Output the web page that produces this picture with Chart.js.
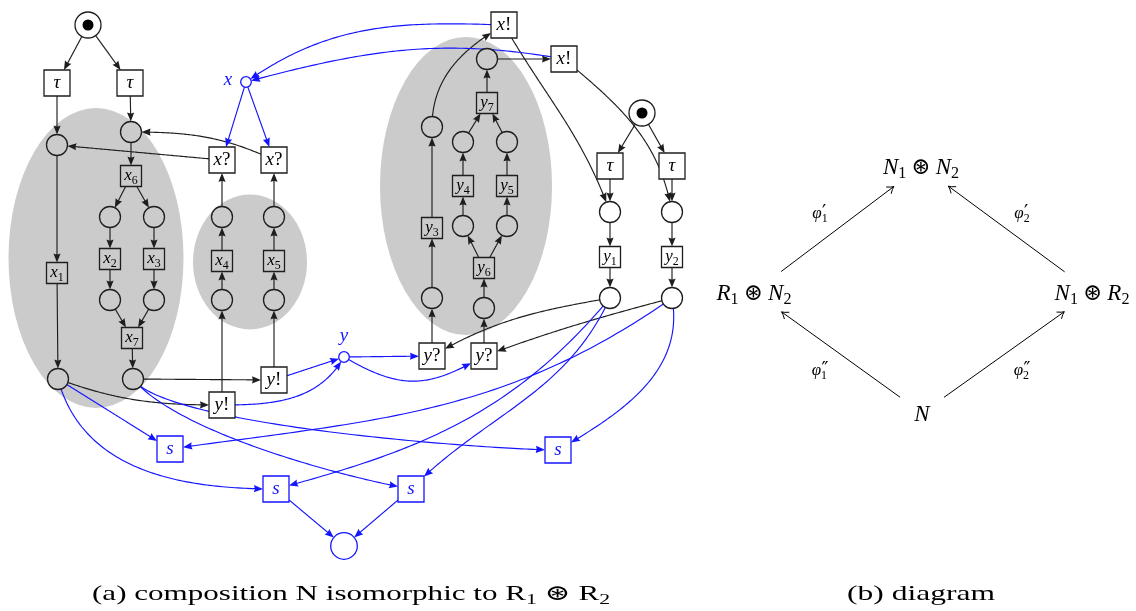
<!DOCTYPE html>
<html>
<head>
<meta charset="utf-8">
<script src="https://cdn.jsdelivr.net/npm/chart.js@4.4.1/dist/chart.umd.min.js"></script>
<style>
html, body { margin: 0; padding: 0; background: #fff; }
#wrap { width: 1136px; height: 611px; position: relative; }
</style>
</head>
<body>
<div id="wrap"><canvas id="net"></canvas></div>
<script>
// 座標單位 = 參考圖的像素 (x 0..1136, y 0..611 向下)

// 位置 (places)
const placeIds = ['i1','p1','p2','p3','p4','p5','p6','p7','p8','p9','p10','p11','p12',
                  'i2','q1','q2','q3','q4','q5','q6','q7','q8','q9','q10','q11','q12',
                  'px','py','pf'];
const placeX = [88, 57, 131, 110, 154, 110, 154, 58, 133, 222, 274, 222, 274,
                642, 487, 432, 463, 507, 463, 507, 432, 484, 610, 672, 610, 672,
                246, 344, 344];
const placeY = [25, 145, 132, 217, 217, 300, 300, 379, 379, 217, 217, 300, 300,
                113, 59, 127, 142, 142, 226, 226, 298, 308, 212, 212, 298, 298,
                82, 357, 546];
const placeKind = ['init','std','std','std','std','std','std','std','std','std','std','std','std',
                   'init','std','std','std','std','std','std','std','std','std','std','std','std',
                   'port','port','final'];

// 變遷 (transitions)
const transIds = ['t1','t2','x6','x2','x3','x1','x7','x4','x5','xq1','xq2','ye1','ye2','xe1','xe2',
                  'y7','y4','y5','y3','y6','t3','t4','y1','y2','yq1','yq2','s1','s2','s3','s4'];
const transLabels = ['τ','τ','x_6','x_2','x_3','x_1','x_7','x_4','x_5','x?','x?','y!','y!','x!','x!',
                     'y_7','y_4','y_5','y_3','y_6','τ','τ','y_1','y_2','y?','y?','s','s','s','s'];
const transX = [57, 130, 131, 110, 154, 57, 132, 222, 274, 222, 274, 222, 274, 504, 564,
                487, 463, 507, 432, 484, 610, 672, 610, 672, 432, 484, 170, 276, 411, 558];
const transY = [83, 83, 176, 259, 259, 273, 338, 261, 261, 160, 160, 405, 380, 25, 59,
                103, 186, 186, 228, 268, 166, 166, 257, 257, 356, 356, 449, 489, 489, 450];
const transKind = ['big','big','small','small','small','small','small','small','small','big','big','big','big','big','big',
                   'small','small','small','small','small','big','big','small','small','big','big','sync','sync','sync','sync'];

// 弧 [from, to, out角, in角, looseness]
const blackArcs = [
    ['i1','t1'], ['i1','t2'], ['t1','p1'], ['t2','p2'], ['p2','x6'], ['x6','p3'], ['x6','p4'],
    ['p3','x2'], ['p4','x3'], ['x2','p5'], ['x3','p6'], ['p5','x7'], ['p6','x7'], ['x7','p8'],
    ['p1','x1'], ['x1','p7'], ['p8','ye2'], ['p7','ye1', -20, 180],
    ['ye1','p11'], ['p11','x4'], ['x4','p9'], ['p9','xq1'],
    ['ye2','p12'], ['p12','x5'], ['x5','p10'], ['p10','xq2'],
    ['xq1','p1'], ['xq2','p2', 155, 0],
    ['yq1','q7'], ['q7','y3'], ['y3','q2'], ['q2','xe1', 90, -150],
    ['yq2','q8'], ['q8','y6'], ['y6','q5'], ['y6','q6'], ['q5','y4'], ['q6','y5'],
    ['y4','q3'], ['y5','q4'], ['q3','y7'], ['q4','y7'], ['y7','q1'], ['q1','xe2'],
    ['xe1','q9', -60, 110], ['xe2','q10', -40, 100],
    ['i2','t3'], ['i2','t4'], ['t3','q9'], ['t4','q10'], ['q9','y1'], ['q10','y2'],
    ['y1','q11'], ['y2','q12'],
    ['q11','yq1', 190, 30], ['q12','yq2', 195, 20]
];
const blueArcs = [
    ['xe1','px', 178, 35], ['xe2','px', 170, 15], ['px','xq1'], ['px','xq2'],
    ['ye2','py'], ['ye1','py', 0, -120], ['py','yq1'], ['py','yq2', -30, -150, 1.2],
    ['p7','s1'], ['p7','s2', -75, 180], ['p8','s4', -55, 180, 0.35], ['p8','s3', -50, 170, 0.6],
    ['q11','s2', -130, 15], ['q11','s3', -115, 45], ['q12','s1', -145, 8], ['q12','s4', -80, 30],
    ['s2','pf'], ['s3','pf']
];

// 灰色區域 (components)
const regionX = [96, 250, 466];
const regionY = [258, 262, 186];
const regionRX = [87.5, 57, 86];
const regionRY = [150, 67.5, 149];

// 介面標籤
const portLabels = ['x', 'y'];
const portLabelX = [228, 344];
const portLabelY = [81, 337];

// (b) 圖
const diagLabels = ['N_1 ⊛ N_2', 'R_1 ⊛ N_2', 'N_1 ⊛ R_2', 'N'];
const diagX = [921, 754, 1092, 922];
const diagY = [166, 292, 292, 413];
const diagGap = [34, 34, 34, 27];
const diagArrows = [[1, 0], [2, 0], [3, 1], [3, 2]];
const phiLabels = ["φ'_1", "φ'_2", "φ''_1", "φ''_2"];
const phiX = [820, 1022, 820, 1022];
const phiY = [215, 215, 372, 372];

// 說明文字
const captions = ['(a) composition N isomorphic to R_1 ⊛ R_2', '(b) diagram'];
const captionX = [351, 921];
const captionY = [593, 593];
const captionW = [518, 148];

// 樣式
const INK = '#1e1e1e';
const BLUE = '#1414ff';
const GRAY = '#cbcbcb';
const FAM = '"Liberation Serif", "DejaVu Serif", "DejaVu Sans", serif';
const placeR = { init: 13, std: 10.5, port: 5.3, final: 13.3 };
const transSide = { big: 26, small: 21, sync: 26 };

function inRegion(x, y) {
    for (let i = 0; i < regionX.length; i++) {
        const dx = (x - regionX[i]) / regionRX[i];
        const dy = (y - regionY[i]) / regionRY[i];
        if (dx * dx + dy * dy < 1) return true;
    }
    return false;
}

// 節點表
const nodes = {};
placeIds.forEach((id, i) => {
    nodes[id] = { x: placeX[i], y: placeY[i], shape: 'c', r: placeR[placeKind[i]] };
});
transIds.forEach((id, i) => {
    nodes[id] = { x: transX[i], y: transY[i], shape: 'r', r: transSide[transKind[i]] / 2 };
});

// 數學文字
function drawMath(ctx, str, cx, cy, size, color, opts = {}) {
    const parts = [];
    for (let i = 0; i < str.length; i++) {
        const c = str[i];
        if (c === '_') { parts.push({ t: str[++i], k: 'sub' }); continue; }
        if (c === "'") {
            let t = '\u2032';
            if (str[i + 1] === "'") { t = '\u2033'; i++; }
            parts.push({ t: t, k: 'sup' });
            continue;
        }
        if (c === ' ') { parts.push({ t: ' ', k: 'sp' }); continue; }
        const letter = /[A-Za-z\u03b1-\u03c9]/.test(c);
        parts.push({ t: c, k: (letter && !opts.upright) ? 'it' : 'rm' });
    }
    const fontOf = k => {
        if (k === 'it') return `italic ${size}px ${FAM}`;
        if (k === 'sub') return `${(size * 0.7).toFixed(1)}px ${FAM}`;
        if (k === 'sup') return `${(size * 1.1).toFixed(1)}px "DejaVu Sans", ${FAM}`;
        return `${size}px ${FAM}`;
    };
    let x = 0;
    let scriptStart = null;
    const placed = [];
    parts.forEach(p => {
        if (p.k === 'sp') { x += size * (opts.space || 0.25); scriptStart = null; return; }
        ctx.font = fontOf(p.k);
        const w = ctx.measureText(p.t).width;
        let px = x, dy = 0;
        if (p.k === 'sup') {
            px = x + size * 0.02;
            scriptStart = x; dy = -size * 0.05; x = px + w;
        } else if (p.k === 'sub') {
            if (scriptStart !== null) px = scriptStart;
            dy = size * 0.2; x = Math.max(x, px + w); scriptStart = null;
        } else {
            scriptStart = null; x += w;
        }
        placed.push({ t: p.t, k: p.k, x: px, dy: dy });
    });
    const sx = opts.width ? opts.width / x : 1;
    ctx.save();
    ctx.translate(cx - x * sx / 2, cy + size * (opts.base != null ? opts.base : 0.3));
    ctx.scale(sx, 1);
    ctx.fillStyle = color;
    ctx.textBaseline = 'alphabetic';
    ctx.textAlign = 'left';
    placed.forEach(p => {
        ctx.font = fontOf(p.k);
        ctx.fillText(p.t, p.x, p.dy);
    });
    ctx.restore();
}

// 弧線 (TikZ 式 out/in 貝茲曲線)
function drawArc(ctx, chart, arc, color) {
    const sx = chart.scales.x, sy = chart.scales.y;
    const a = nodes[arc[0]], b = nodes[arc[1]];
    const A = { x: sx.getPixelForValue(a.x), y: sy.getPixelForValue(a.y) };
    const B = { x: sx.getPixelForValue(b.x), y: sy.getPixelForValue(b.y) };
    const d = Math.hypot(B.x - A.x, B.y - A.y);
    let C1, C2;
    if (arc[2] == null) {
        C1 = { x: A.x + (B.x - A.x) / 3, y: A.y + (B.y - A.y) / 3 };
        C2 = { x: A.x + 2 * (B.x - A.x) / 3, y: A.y + 2 * (B.y - A.y) / 3 };
    } else {
        const L = 0.3915 * d * (arc[4] || 1);
        const o = arc[2] * Math.PI / 180, n = arc[3] * Math.PI / 180;
        C1 = { x: A.x + L * Math.cos(o), y: A.y - L * Math.sin(o) };
        C2 = { x: B.x + L * Math.cos(n), y: B.y - L * Math.sin(n) };
    }
    const P = t => {
        const u = 1 - t;
        return {
            x: u * u * u * A.x + 3 * u * u * t * C1.x + 3 * u * t * t * C2.x + t * t * t * B.x,
            y: u * u * u * A.y + 3 * u * u * t * C1.y + 3 * u * t * t * C2.y + t * t * t * B.y
        };
    };
    const inside = (node, c, p) => {
        if (node.shape === 'c') return Math.hypot(p.x - c.x, p.y - c.y) <= node.r;
        return Math.abs(p.x - c.x) <= node.r && Math.abs(p.y - c.y) <= node.r;
    };
    let lo = 0, hi = 0.5;
    for (let k = 0; k < 30; k++) {
        const m = (lo + hi) / 2;
        if (inside(a, A, P(m))) lo = m; else hi = m;
    }
    const t0 = hi;
    lo = 0.5; hi = 1;
    for (let k = 0; k < 30; k++) {
        const m = (lo + hi) / 2;
        if (inside(b, B, P(m))) hi = m; else lo = m;
    }
    const t1 = lo;
    const tip = P(t1);
    const head = 9;
    const half = 3.6;
    const dist = t => Math.hypot(P(t).x - tip.x, P(t).y - tip.y);
    const step = (t1 - t0) / 2000;
    let tb = t1;
    while (tb > t0 && dist(tb) < head) tb -= step;
    let te = t1;
    while (te > t0 && dist(te) < head * 0.6) te -= step;
    const base = P(tb);
    const ux = (tip.x - base.x) / head, uy = (tip.y - base.y) / head;
    const nx = -uy, ny = ux;
    ctx.strokeStyle = color;
    ctx.fillStyle = color;
    ctx.lineWidth = 1.15;
    ctx.beginPath();
    const s0 = P(t0);
    ctx.moveTo(s0.x, s0.y);
    const N = 80;
    for (let k = 1; k <= N; k++) {
        const q = P(t0 + (te - t0) * k / N);
        ctx.lineTo(q.x, q.y);
    }
    ctx.stroke();
    ctx.beginPath();
    ctx.moveTo(tip.x, tip.y);
    ctx.lineTo(tip.x - head * ux + half * nx, tip.y - head * uy + half * ny);
    ctx.quadraticCurveTo(tip.x - head * 0.8 * ux, tip.y - head * 0.8 * uy,
                         tip.x - head * ux - half * nx, tip.y - head * uy - half * ny);
    ctx.closePath();
    ctx.fill();
}

const netPlugin = {
    id: 'netDraw',
    beforeDatasetsDraw(chart) {
        const ctx = chart.ctx;
        const sx = chart.scales.x, sy = chart.scales.y;
        ctx.save();
        ctx.fillStyle = GRAY;
        regionX.forEach((x, i) => {
            ctx.beginPath();
            ctx.ellipse(sx.getPixelForValue(x), sy.getPixelForValue(regionY[i]),
                        regionRX[i], regionRY[i], 0, 0, Math.PI * 2);
            ctx.fill();
        });
        blackArcs.forEach(a => drawArc(ctx, chart, a, INK));
        blueArcs.forEach(a => drawArc(ctx, chart, a, BLUE));
        ctx.restore();
    },
    afterDatasetsDraw(chart) {
        const ctx = chart.ctx;
        const sx = chart.scales.x, sy = chart.scales.y;
        const X = v => sx.getPixelForValue(v), Y = v => sy.getPixelForValue(v);
        ctx.save();
        transLabels.forEach((lab, i) => {
            const size = transKind[i] === 'small' ? 17 : 19;
            const col = transKind[i] === 'sync' ? BLUE : '#000';
            drawMath(ctx, lab, X(transX[i]), Y(transY[i]), size, col, { base: 0.25 });
        });
        portLabels.forEach((lab, i) => {
            drawMath(ctx, lab, X(portLabelX[i]), Y(portLabelY[i]), 19, BLUE, { base: 0.2 });
        });
        // (b) 圖
        diagLabels.forEach((lab, i) => {
            drawMath(ctx, lab, X(diagX[i]), Y(diagY[i]), 23, '#000', { space: 0.22, base: 0.33 });
        });
        phiLabels.forEach((lab, i) => {
            drawMath(ctx, lab, X(phiX[i]), Y(phiY[i]), 17, '#000', { base: 0.2 });
        });
        ctx.strokeStyle = '#000';
        ctx.lineWidth = 1;
        diagArrows.forEach(([f, t]) => {
            const ax = X(diagX[f]), ay = Y(diagY[f]);
            const bx = X(diagX[t]), by = Y(diagY[t]);
            const d = Math.hypot(bx - ax, by - ay);
            const ux = (bx - ax) / d, uy = (by - ay) / d;
            const nx = -uy, ny = ux;
            const s = { x: ax + ux * diagGap[f], y: ay + uy * diagGap[f] };
            const e = { x: bx - ux * diagGap[t], y: by - uy * diagGap[t] };
            ctx.beginPath();
            ctx.moveTo(s.x, s.y);
            ctx.lineTo(e.x, e.y);
            ctx.stroke();
            [1, -1].forEach(sg => {
                ctx.beginPath();
                ctx.moveTo(e.x - 6.5 * ux + sg * 4.2 * nx, e.y - 6.5 * uy + sg * 4.2 * ny);
                ctx.quadraticCurveTo(e.x - 2.5 * ux + sg * 0.8 * nx, e.y - 2.5 * uy + sg * 0.8 * ny, e.x, e.y);
                ctx.stroke();
            });
        });
        captions.forEach((c, i) => {
            drawMath(ctx, c, X(captionX[i]), Y(captionY[i]), 22, '#000',
                     { upright: true, width: captionW[i], space: 0.25, base: 0.32 });
        });
        ctx.restore();
    }
};

const placeData = placeX.map((x, i) => ({ x: x, y: placeY[i] }));
const transData = transX.map((x, i) => ({ x: x, y: transY[i] }));
const tokenData = placeData.filter((p, i) => placeKind[i] === 'init');

new Chart(document.getElementById('net'), {
    type: 'scatter',
    data: {
        datasets: [
            {
                label: 'places',
                order: 2,
                data: placeData,
                pointStyle: 'circle',
                pointRadius: placeKind.map(k => placeR[k]),
                pointBackgroundColor: placeData.map(p => inRegion(p.x, p.y) ? GRAY : '#ffffff'),
                pointBorderColor: placeKind.map(k => (k === 'port' || k === 'final') ? BLUE : INK),
                pointBorderWidth: 1.3
            },
            {
                label: 'transitions',
                order: 1,
                data: transData,
                pointStyle: 'rect',
                pointRadius: transKind.map(k => transSide[k] / Math.SQRT2),
                pointBackgroundColor: transData.map(p => inRegion(p.x, p.y) ? GRAY : '#ffffff'),
                pointBorderColor: transKind.map(k => k === 'sync' ? BLUE : INK),
                pointBorderWidth: 1.3
            },
            {
                label: 'tokens',
                order: 0,
                data: tokenData,
                pointStyle: 'circle',
                pointRadius: 5.5,
                pointBackgroundColor: '#000',
                pointBorderColor: '#000',
                pointBorderWidth: 0
            }
        ]
    },
    options: {
        responsive: true,
        maintainAspectRatio: false,
        animation: false,
        events: [],
        layout: { padding: 0, autoPadding: false },
        plugins: { legend: { display: false }, tooltip: { enabled: false }, title: { display: false } },
        scales: {
            x: { type: 'linear', min: 0, max: 1136, display: false },
            y: { type: 'linear', min: 0, max: 611, reverse: true, display: false }
        }
    },
    plugins: [netPlugin]
});
</script>
</body>
</html>
